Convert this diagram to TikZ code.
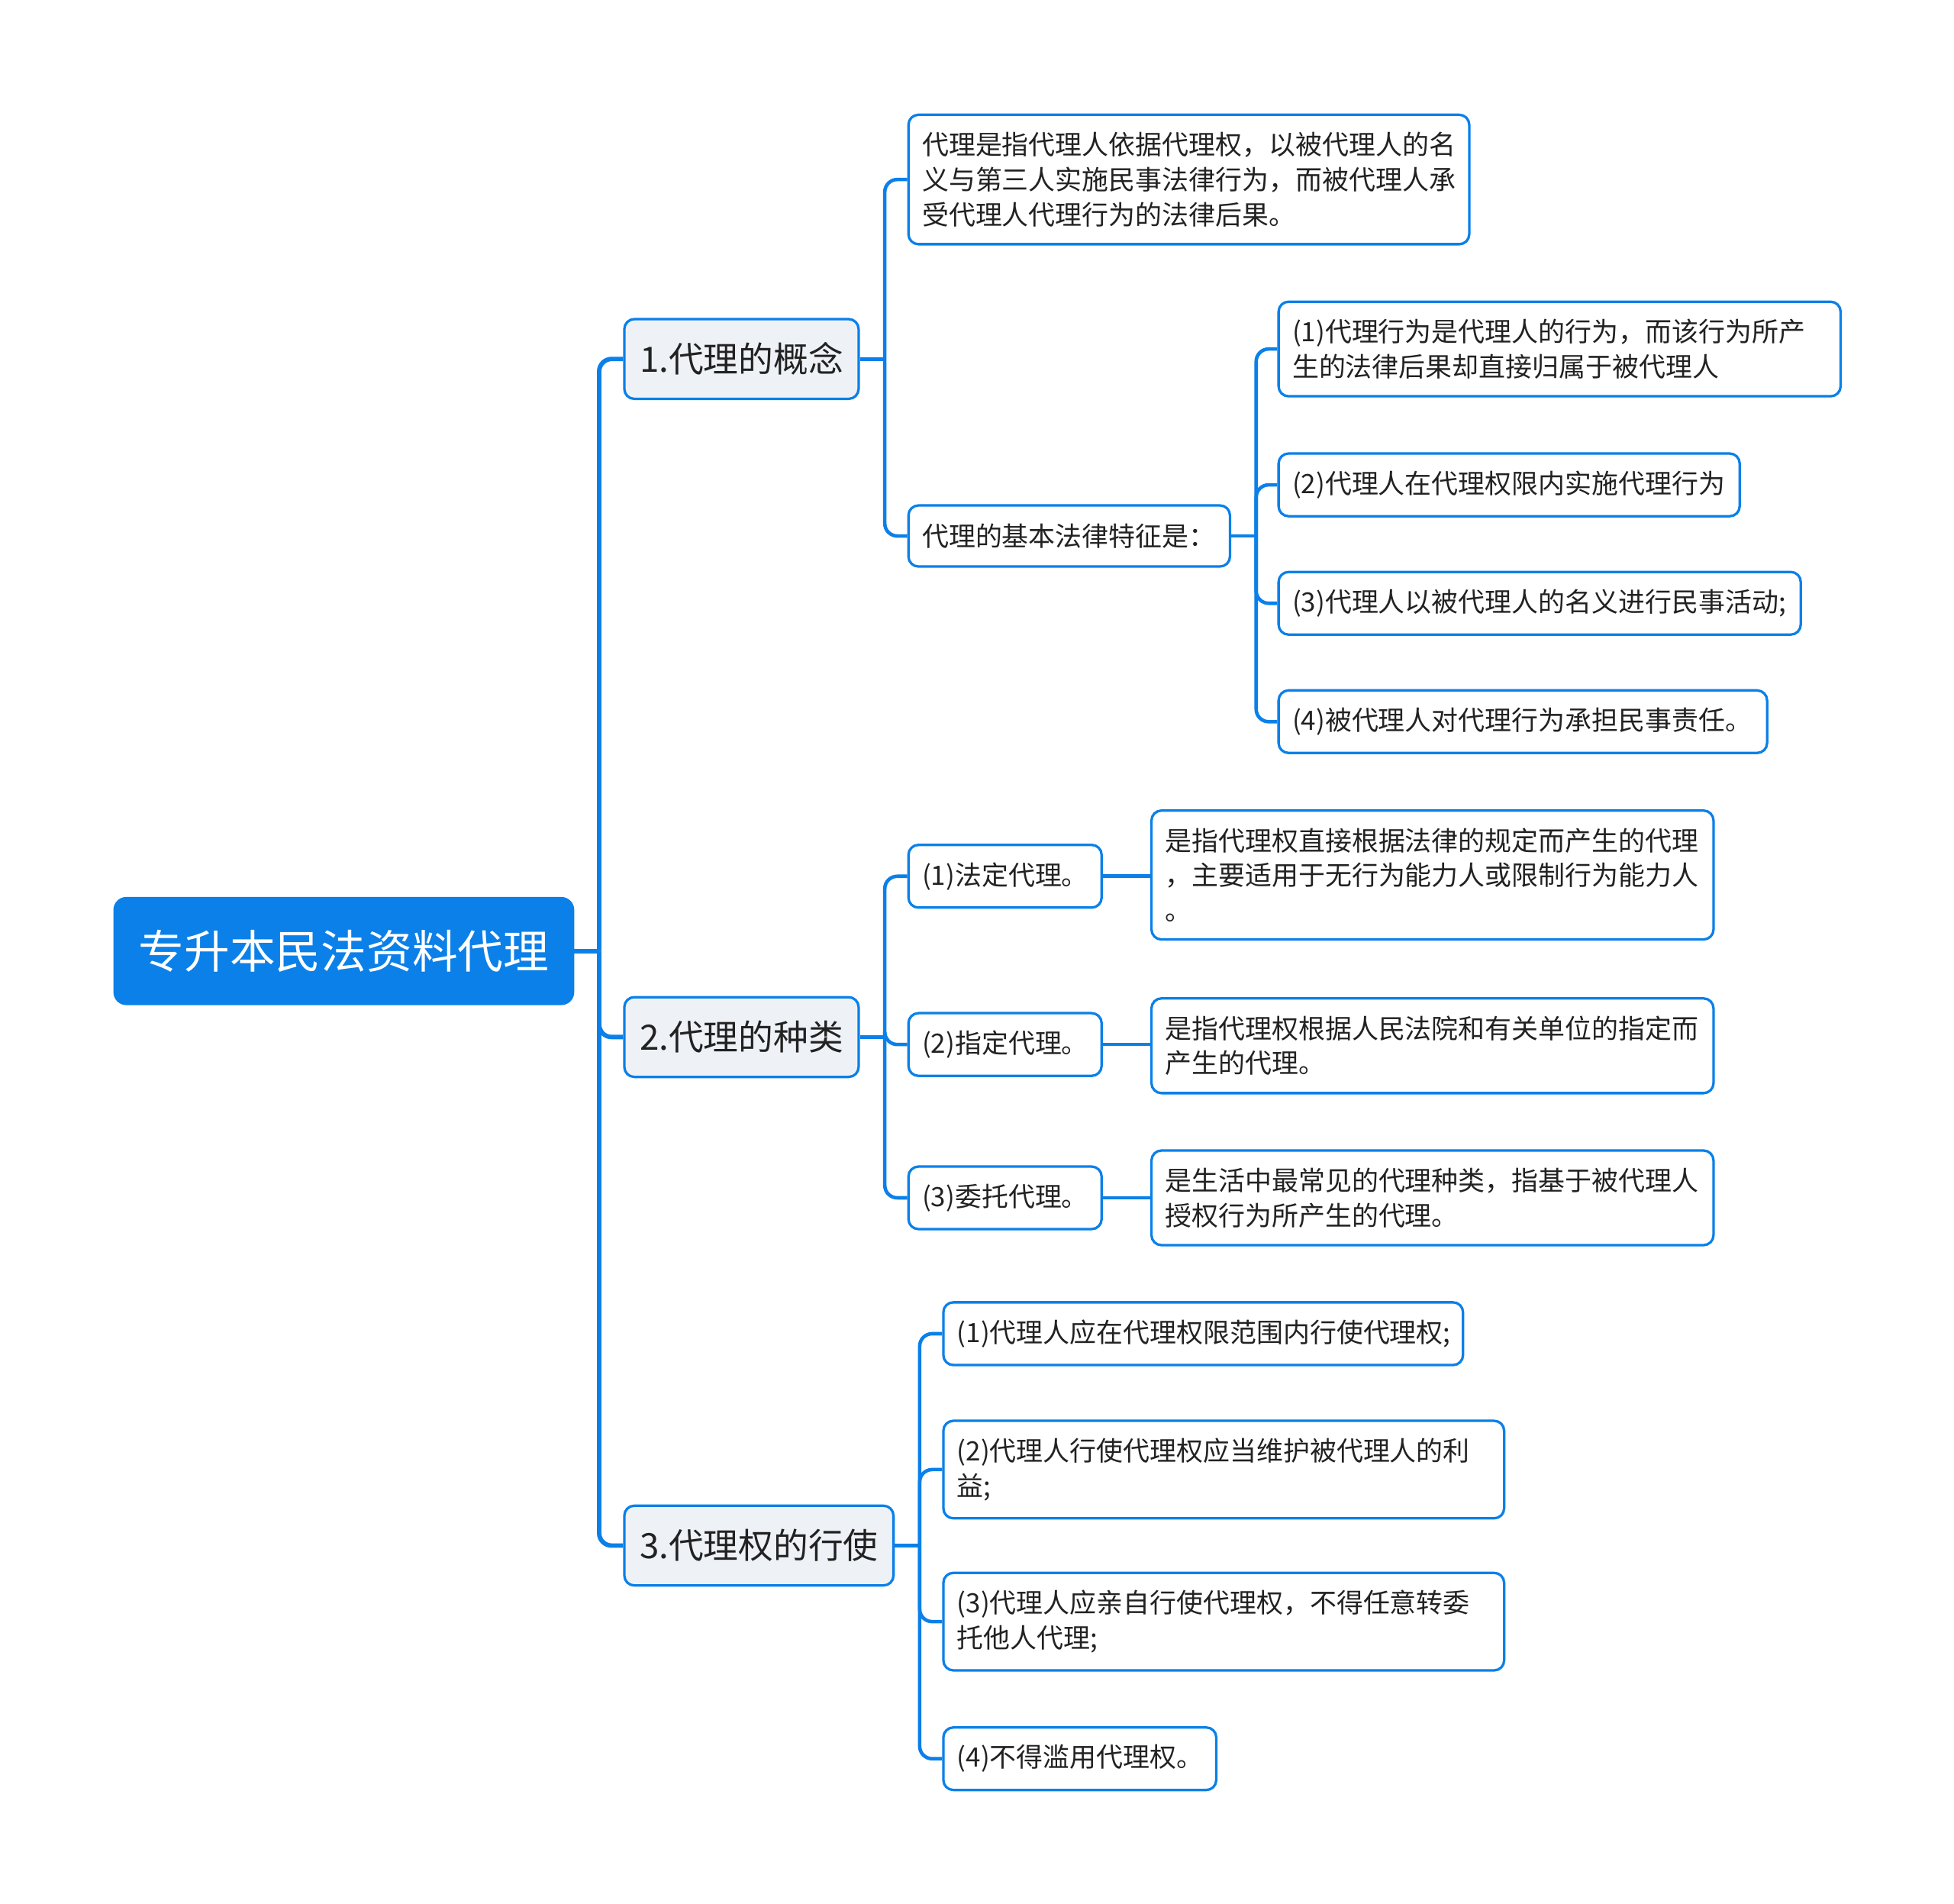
\documentclass[tikz,border=0pt]{standalone}
\usepackage{fontspec}
\setmainfont{Noto Sans CJK SC}
\usepackage{tikz}

\definecolor{mainblue}{HTML}{0B80E8}
\definecolor{topicfill}{HTML}{EEF2F6}
\definecolor{inktext}{HTML}{222222}

\tikzset{
  base/.style={draw=mainblue, rounded corners=4pt, line width=1pt, text=inktext},
  rootbox/.style={fill=mainblue, draw=mainblue, rounded corners=5pt, text=white,
    font=\fontsize{18.3}{22}\selectfont, minimum width=184.5pt, minimum height=43pt},
  topic/.style={base, fill=topicfill, font=\fontsize{14}{17}\selectfont,
    minimum height=32pt, minimum width=#1},
  leaf/.style={base, fill=white, font=\fontsize{10.7}{14}\selectfont, align=left,
    text width=#1, inner xsep=5.5pt, inner ysep=7pt, minimum height=24.5pt},
  link/.style={draw=mainblue, line width=1.4pt, rounded corners=5pt},
  trunk/.style={link, line width=1.8pt},
}

\begin{document}
\begin{tikzpicture}[x=0.5pt, y=-0.5pt]
    \useasboundingbox (0,0) rectangle (1568,1527);

    \node[rootbox, anchor=west] at (91,763) (root) {专升本民法资料代理};

    \node[topic=94pt, anchor=west] at (500,288) (gainian) {1.代理的概念};
    \node[topic=94pt, anchor=west] at (500,832) (zhonglei) {2.代理的种类};
    \node[topic=108pt, anchor=west] at (500,1240) (xingshi) {3.代理权的行使};

    % 1.代理的概念
    \node[leaf=214pt, anchor=west] at (728,144) (dingyi) {代理是指代理人依据代理权，以被代理人的名\\义与第三人实施民事法律行为，而被代理人承\\受代理人代理行为的法律后果。};
    \node[leaf=118pt, anchor=west] at (728,430) (tezheng) {代理的基本法律特征是：};

    \node[leaf=214.5pt, anchor=west] at (1025,280) (t1) {(1)代理行为是代理人的行为，而该行为所产\\生的法律后果却直接归属于被代理人};
    \node[leaf=174pt, anchor=west] at (1025,389) (t2) {(2)代理人在代理权限内实施代理行为};
    \node[leaf=198.5pt, anchor=west] at (1025,484) (t3) {(3)代理人以被代理人的名义进行民事活动;};
    \node[leaf=185pt, anchor=west] at (1025,579) (t4) {(4)被代理人对代理行为承担民事责任。};

    % 2.代理的种类
    \node[leaf=66.5pt, anchor=west] at (728,703) (fading) {(1)法定代理。};
    \node[leaf=66.5pt, anchor=west] at (728,838) (zhiding) {(2)指定代理。};
    \node[leaf=66.5pt, anchor=west] at (728,961) (weituo) {(3)委托代理。};

    \node[leaf=214.5pt, anchor=west] at (923,702) (fadingtxt) {是指代理权直接根据法律的规定而产生的代理\\，主要适用于无行为能力人或限制行为能力人\\。};
    \node[leaf=214.5pt, anchor=west] at (923,839) (zhidingtxt) {是指代理权根据人民法院和有关单位的指定而\\产生的代理。};
    \node[leaf=214.5pt, anchor=west] at (923,961) (weituotxt) {是生活中最常见的代理种类，指基于被代理人\\授权行为所产生的代理。};

    % 3.代理权的行使
    \node[leaf=197.5pt, anchor=west] at (756,1070) (x1) {(1)代理人应在代理权限范围内行使代理权;};
    \node[leaf=214pt, anchor=west] at (756,1179) (x2) {(2)代理人行使代理权应当维护被代理人的利\\益;};
    \node[leaf=214pt, anchor=west] at (756,1301) (x3) {(3)代理人应亲自行使代理权，不得任意转委\\托他人代理;};
    \node[leaf=98.5pt, anchor=west] at (756,1411) (x4) {(4)不得滥用代理权。};

    % connectors
    \coordinate (j0) at ([xshift=10pt]root.east);
    \draw[trunk] (root.east) -- (j0);
    \foreach \c in {gainian, zhonglei, xingshi}
        \draw[trunk] (j0) |- (\c.west);

    \coordinate (j1) at ([xshift=10pt]gainian.east);
    \draw[link] (gainian.east) -- (j1);
    \foreach \c in {dingyi, tezheng}
        \draw[link] (j1) |- (\c.west);

    \coordinate (j11) at ([xshift=10pt]tezheng.east);
    \draw[link] (tezheng.east) -- (j11);
    \foreach \c in {t1, t2, t3, t4}
        \draw[link] (j11) |- (\c.west);

    \coordinate (j2) at ([xshift=10pt]zhonglei.east);
    \draw[link] (zhonglei.east) -- (j2);
    \foreach \c in {fading, zhiding, weituo}
        \draw[link] (j2) |- (\c.west);

    \draw[link] (fading.east) -- (fading.east -| fadingtxt.west);
    \draw[link] (zhiding.east) -- (zhiding.east -| zhidingtxt.west);
    \draw[link] (weituo.east) -- (weituo.east -| weituotxt.west);

    \coordinate (j3) at ([xshift=10pt]xingshi.east);
    \draw[link] (xingshi.east) -- (j3);
    \foreach \c in {x1, x2, x3, x4}
        \draw[link] (j3) |- (\c.west);
\end{tikzpicture}
\end{document}
